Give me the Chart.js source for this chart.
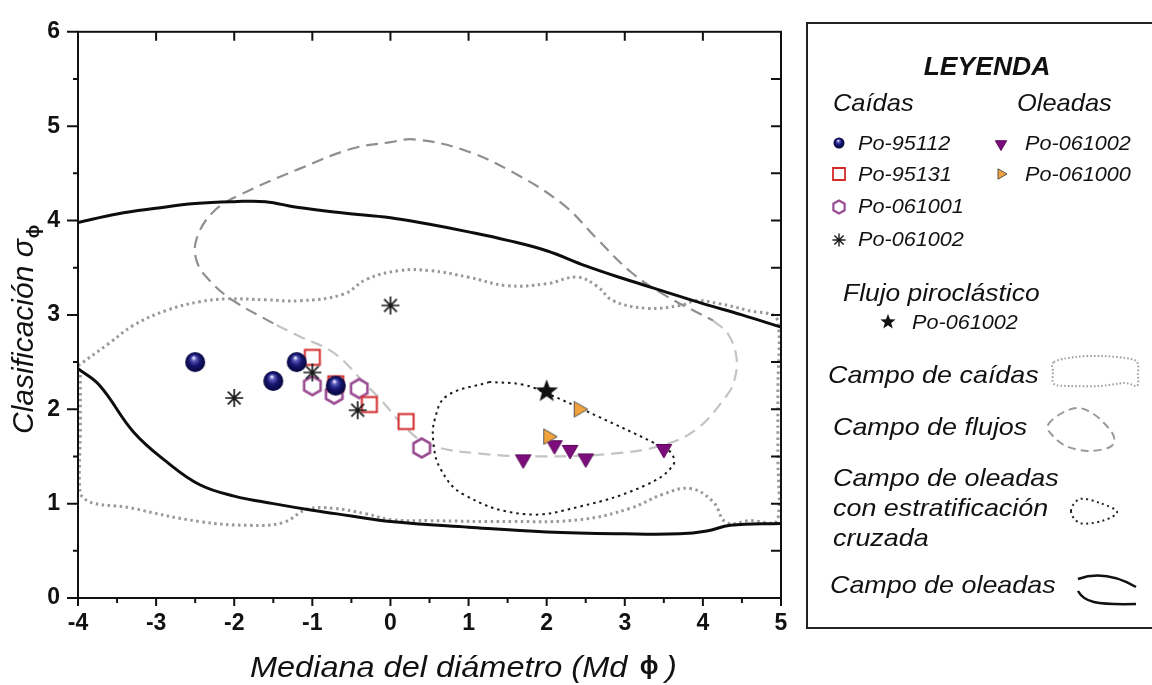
<!DOCTYPE html>
<html>
<head>
<meta charset="utf-8">
<script src="https://cdn.jsdelivr.net/npm/chart.js@4.4.1/dist/chart.umd.min.js"></script>
<style>
html,body{margin:0;padding:0;background:#fff;}
#wrap{width:1152px;height:685px;position:relative;}
</style>
</head>
<body>
<div id="wrap"><canvas id="c" width="1152" height="685"></canvas></div>
<script>
// ---------- data ----------
const xTickValues = [-4,-3,-2,-1,0,1,2,3,4,5];
const yTickValues = [0,1,2,3,4,5,6];

// Caídas
const caidas95112 = [{x:-2.5,y:2.5},{x:-1.5,y:2.3},{x:-1.2,y:2.5},{x:-0.7,y:2.25}];
const caidas95131 = [{x:-1.0,y:2.55},{x:-0.7,y:2.27},{x:-0.27,y:2.05},{x:0.2,y:1.87}];
const caidas061001 = [{x:-1.0,y:2.25},{x:-0.72,y:2.16},{x:-0.4,y:2.22},{x:0.4,y:1.59}];
const caidas061002 = [{x:-2.0,y:2.12},{x:-1.0,y:2.39},{x:-0.42,y:1.99},{x:0.0,y:3.1}];
// Oleadas
const oleadas061002 = [{x:1.7,y:1.48},{x:2.1,y:1.63},{x:2.3,y:1.58},{x:2.5,y:1.49},{x:3.5,y:1.59}];
const oleadas061000 = [{x:2.02,y:1.71},{x:2.41,y:2.0}];
// Flujo piroclástico
const flujo061002 = [{x:2.0,y:2.19}];

// Campo de oleadas (two solid curves)
const oleadasUpper = [{x:-4,y:3.98},{x:-3.5,y:4.07},{x:-3,y:4.13},{x:-2.5,y:4.18},{x:-2,y:4.2},{x:-1.6,y:4.2},{x:-1.2,y:4.14},{x:-0.6,y:4.08},{x:0,y:4.03},{x:0.5,y:3.96},{x:1,y:3.88},{x:1.5,y:3.79},{x:2,y:3.68},{x:2.5,y:3.52},{x:3,y:3.38},{x:3.5,y:3.25},{x:4,y:3.12},{x:4.5,y:3.0},{x:5,y:2.87}];
const oleadasLower = [{x:-4,y:2.43},{x:-3.72,y:2.25},{x:-3.29,y:1.76},{x:-2.86,y:1.44},{x:-2.44,y:1.2},{x:-2,y:1.08},{x:-1.5,y:1.0},{x:-1,y:0.93},{x:-0.5,y:0.87},{x:0,y:0.81},{x:1,y:0.75},{x:2,y:0.7},{x:3,y:0.68},{x:3.7,y:0.68},{x:4.05,y:0.71},{x:4.35,y:0.77},{x:5,y:0.79}];
// Campo de caídas (dotted)
const caidasField = [{x:-4,y:2.46},{x:-3.6,y:2.7},{x:-3.29,y:2.89},{x:-2.86,y:3.05},{x:-2.44,y:3.14},{x:-2.09,y:3.17},{x:-1.6,y:3.16},{x:-1.16,y:3.15},{x:-0.6,y:3.22},{x:-0.3,y:3.38},{x:0.12,y:3.47},{x:0.5,y:3.47},{x:1.0,y:3.4},{x:1.49,y:3.31},{x:2.0,y:3.33},{x:2.39,y:3.4},{x:2.65,y:3.3},{x:2.85,y:3.15},{x:3.28,y:3.07},{x:3.71,y:3.1},{x:3.92,y:3.15},{x:4.2,y:3.12},{x:4.56,y:3.05},{x:4.96,y:2.94},{x:4.96,y:2.2},{x:4.96,y:1.5},{x:4.96,y:0.83},{x:4.6,y:0.82},{x:4.3,y:0.8},{x:4.13,y:1.02},{x:3.84,y:1.16},{x:3.49,y:1.1},{x:3.07,y:0.95},{x:2.43,y:0.83},{x:1.57,y:0.81},{x:0.5,y:0.82},{x:0,y:0.83},{x:-0.3,y:0.89},{x:-0.73,y:0.95},{x:-1.07,y:0.94},{x:-1.37,y:0.8},{x:-1.8,y:0.77},{x:-2.44,y:0.81},{x:-3.29,y:0.95},{x:-3.97,y:1.1},{x:-3.97,y:1.8},{x:-3.97,y:2.46}];
// Campo de flujos (dashed) upper (darker) and lower (lighter) parts
const flujosUpper = [{x:-1.5,y:2.91},{x:-2.01,y:3.15},{x:-2.31,y:3.36},{x:-2.48,y:3.57},{x:-2.48,y:3.81},{x:-2.27,y:4.09},{x:-1.93,y:4.27},{x:-1.16,y:4.55},{x:-0.5,y:4.76},{x:0,y:4.83},{x:0.3,y:4.86},{x:0.93,y:4.75},{x:1.57,y:4.51},{x:2.21,y:4.17},{x:2.64,y:3.81},{x:3.07,y:3.46},{x:3.49,y:3.22},{x:4.13,y:2.94}];
const flujosLower = [{x:4.13,y:2.94},{x:4.32,y:2.8},{x:4.43,y:2.55},{x:4.4,y:2.3},{x:4.3,y:2.14},{x:3.92,y:1.79},{x:3.49,y:1.62},{x:2.85,y:1.53},{x:2.0,y:1.5},{x:1.15,y:1.53},{x:0.51,y:1.62},{x:0.21,y:1.79},{x:-0.1,y:2.08},{x:-0.3,y:2.25},{x:-0.73,y:2.6},{x:-1.16,y:2.77},{x:-1.5,y:2.91}];
// Campo de oleadas con estratificación cruzada (dotted black)
const cruzadaField = [{x:1.27,y:2.29},{x:0.72,y:2.14},{x:0.57,y:1.9},{x:0.55,y:1.65},{x:0.64,y:1.37},{x:0.93,y:1.1},{x:1.7,y:0.89},{x:2.43,y:0.97},{x:3.28,y:1.2},{x:3.62,y:1.41},{x:3.58,y:1.55},{x:3.36,y:1.65},{x:2.64,y:1.93},{x:2.0,y:2.17},{x:1.7,y:2.26},{x:1.27,y:2.29}];

// ---------- marker painters ----------
function paintSphere(g,x,y,r){
  const grad=g.createRadialGradient(x-r*0.15,y-r*0.45,r*0.05,x,y,r);
  grad.addColorStop(0,'#f0f0ff');grad.addColorStop(0.22,'#5656b8');grad.addColorStop(0.55,'#161670');grad.addColorStop(1,'#06063c');
  g.fillStyle=grad;g.beginPath();g.arc(x,y,r,0,Math.PI*2);g.fill();
}
function paintSquare(g,x,y,h,lw){
  g.fillStyle='#fff';g.strokeStyle='#d42a2a';g.lineWidth=lw;
  g.beginPath();g.rect(x-h,y-h,2*h,2*h);g.fill();g.stroke();
}
function paintHex(g,x,y,r,lw){
  g.strokeStyle='#9b4d94';g.lineWidth=lw;g.fillStyle='#fff';g.beginPath();
  for(let i=0;i<6;i++){const a=Math.PI/2+i*Math.PI/3;const px=x+r*Math.cos(a),py=y-r*Math.sin(a);i?g.lineTo(px,py):g.moveTo(px,py);}
  g.closePath();g.fill();g.stroke();
}
function paintAsterisk(g,x,y,r,lw){
  g.strokeStyle='#1a1a1a';g.lineWidth=lw;g.beginPath();
  for(let i=0;i<4;i++){const a=i*Math.PI/4;g.moveTo(x-r*Math.cos(a),y-r*Math.sin(a));g.lineTo(x+r*Math.cos(a),y+r*Math.sin(a));}
  g.stroke();
}
function paintTri(g,x,y,r,rot,fill,stroke){
  g.fillStyle=fill;g.strokeStyle=stroke;g.lineWidth=1;g.beginPath();
  for(let i=0;i<3;i++){const a=rot+i*2*Math.PI/3;const px=x+r*Math.sin(a),py=y-r*Math.cos(a);i?g.lineTo(px,py):g.moveTo(px,py);}
  g.closePath();g.fill();g.stroke();
}
function paintStar(g,x,y,r){
  g.fillStyle='#111';g.beginPath();
  for(let i=0;i<10;i++){const rr=i%2?r*0.42:r;const a=i*Math.PI/5;const px=x+rr*Math.sin(a),py=y-rr*Math.cos(a);i?g.lineTo(px,py):g.moveTo(px,py);}
  g.closePath();g.fill();
}
function makeCanvas(size,painter){
  const c=document.createElement('canvas');c.width=size;c.height=size;
  painter(c.getContext('2d'),size/2,size/2);return c;
}
const sphereImg=makeCanvas(22,(g,x,y)=>paintSphere(g,x,y,10));
const squareImg=makeCanvas(20,(g,x,y)=>paintSquare(g,x,y,7.5,2));
const hexImg=makeCanvas(24,(g,x,y)=>paintHex(g,x,y,9.5,2.6));
const asteriskImg=makeCanvas(22,(g,x,y)=>paintAsterisk(g,x,y,9,1.7));
const downTriImg=makeCanvas(22,(g,x,y)=>paintTri(g,x,y+1,9,Math.PI,'#7d0c7d','#5a085a'));
const rightTriImg=makeCanvas(22,(g,x,y)=>paintTri(g,x,y,9,Math.PI/2,'#f2a23a','#555'));
const starImg=makeCanvas(26,(g,x,y)=>paintStar(g,x,y,12));

// ---------- helpers ----------
function txt(ctx,s,x,y,font,sx,align){
  ctx.save();ctx.font=font;ctx.translate(x,y);ctx.scale(sx||1,1);
  ctx.textAlign=align||'left';ctx.textBaseline='alphabetic';ctx.fillStyle='#111';ctx.fillText(s,0,0);ctx.restore();
}
function smoothClosed(ctx,pts){
  const n=pts.length;ctx.moveTo(pts[0][0],pts[0][1]);
  for(let i=0;i<n;i++){
    const p0=pts[(i-1+n)%n],p1=pts[i],p2=pts[(i+1)%n],p3=pts[(i+2)%n];
    ctx.bezierCurveTo(p1[0]+(p2[0]-p0[0])/6,p1[1]+(p2[1]-p0[1])/6,p2[0]-(p3[0]-p1[0])/6,p2[1]-(p3[1]-p1[1])/6,p2[0],p2[1]);
  }
}

const F='"Liberation Sans", Arial, sans-serif';

const framePlugin={
  id:'frame',
  afterDraw(chart){
    const ctx=chart.ctx,xs=chart.scales.x,ys=chart.scales.y,a=chart.chartArea;
    ctx.save();
    ctx.strokeStyle='#111';ctx.lineWidth=2;ctx.setLineDash([]);
    ctx.strokeRect(a.left,a.top,a.right-a.left,a.bottom-a.top);
    ctx.beginPath();
    for(let k=-8;k<=10;k++){
      const v=k/2,px=xs.getPixelForValue(v),major=(k%2===0);
      ctx.moveTo(px,a.bottom);ctx.lineTo(px,a.bottom+(major?8:5));
      if(major&&k>-8&&k<10){ctx.moveTo(px,a.top);ctx.lineTo(px,a.top+9);}
    }
    for(let k=0;k<=12;k++){
      const v=k/2,py=ys.getPixelForValue(v),major=(k%2===0);
      ctx.moveTo(a.left,py);ctx.lineTo(a.left-(major?11:5),py);
      if(k>0&&k<12){ctx.moveTo(a.right,py);ctx.lineTo(a.right-10,py);}
    }
    ctx.stroke();

    // axis titles
    txt(ctx,'Mediana del diámetro (Md',250,677,'italic 29px '+F,1.12);
    txt(ctx,'ϕ',649,674,'bold 25px '+F,1,'center');
    txt(ctx,')',666,677,'italic 29px '+F,1.12);
    ctx.save();ctx.translate(33,434);ctx.rotate(-Math.PI/2);
    ctx.font='italic 30px '+F;ctx.fillStyle='#111';ctx.textAlign='left';ctx.textBaseline='alphabetic';
    const s1='Clasificación σ';ctx.fillText(s1,0,0);const w1=ctx.measureText(s1).width;
    ctx.font='bold 18px '+F;ctx.fillText('ϕ',w1+1,6);
    ctx.restore();

    // legend box
    ctx.lineWidth=2;ctx.strokeStyle='#222';ctx.strokeRect(807,23,420,605);
    txt(ctx,'LEYENDA',987,75,'italic bold 25px '+F,1.06,'center');
    txt(ctx,'Caídas',833,111,'italic 24px '+F,1.06);
    txt(ctx,'Oleadas',1017,111,'italic 24px '+F,1.06);
    const rows=[[150,'Po-95112'],[181,'Po-95131'],[213,'Po-061001'],[246,'Po-061002']];
    rows.forEach(r=>txt(ctx,r[1],858,r[0],'italic 21px '+F,1.03));
    paintSphere(ctx,839,143,5.5);
    paintSquare(ctx,839,174,6,1.8);
    paintHex(ctx,839,207,6.5,2.2);
    paintAsterisk(ctx,839,240,6.5,1.4);
    txt(ctx,'Po-061002',1025,150,'italic 21px '+F,1.03);
    txt(ctx,'Po-061000',1025,181,'italic 21px '+F,1.03);
    paintTri(ctx,1001,144,6.5,Math.PI,'#7d0c7d','#5a085a');
    paintTri(ctx,1001,174,6,Math.PI/2,'#f2a23a','#555');
    txt(ctx,'Flujo piroclástico',843,301,'italic 24px '+F,1.1);
    paintStar(ctx,888,322,8);
    txt(ctx,'Po-061002',912,329,'italic 21px '+F,1.03);

    txt(ctx,'Campo de caídas',828,383,'italic 24px '+F,1.12);
    txt(ctx,'Campo de flujos',833,435,'italic 24px '+F,1.12);
    txt(ctx,'Campo de oleadas',833,486,'italic 24px '+F,1.12);
    txt(ctx,'con estratificación',833,516,'italic 24px '+F,1.12);
    txt(ctx,'cruzada',833,546,'italic 24px '+F,1.12);
    txt(ctx,'Campo de oleadas',830,593,'italic 24px '+F,1.12);

    // swatches
    ctx.lineCap='butt';
    ctx.strokeStyle='#9a9a9a';ctx.lineWidth=2;ctx.setLineDash([1.5,2.2]);
    ctx.beginPath();
    smoothClosed(ctx,[[1054,362],[1075,357],[1100,356],[1125,358],[1137,362],[1138,375],[1137,386],[1125,383],[1100,386],[1070,386],[1054,384],[1053,372]]);
    ctx.stroke();
    ctx.strokeStyle='#9a9a9a';ctx.lineWidth=2;ctx.setLineDash([8,5]);
    ctx.beginPath();
    smoothClosed(ctx,[[1048,425],[1062,413],[1078,408],[1092,413],[1105,424],[1114,437],[1110,447],[1088,451],[1066,446],[1052,435]]);
    ctx.stroke();
    ctx.strokeStyle='#222';ctx.lineWidth=2;ctx.setLineDash([2,3.5]);
    ctx.beginPath();
    smoothClosed(ctx,[[1071,511],[1080,499],[1100,503],[1117,512],[1102,521],[1080,523]]);
    ctx.stroke();
    ctx.setLineDash([]);ctx.strokeStyle='#111';ctx.lineWidth=2.5;
    ctx.beginPath();ctx.moveTo(1078,579);ctx.bezierCurveTo(1095,573,1115,575,1136,587);ctx.stroke();
    ctx.beginPath();ctx.moveTo(1078,591);ctx.bezierCurveTo(1084,602,1095,605,1136,604);ctx.stroke();
    ctx.restore();
  }
};

function pts(label,data,img){return {label,data,pointStyle:img,pointRadius:10,pointHoverRadius:10,showLine:false};}
function line(label,data,color,width,dash){return {label,data,showLine:true,pointRadius:0,pointHoverRadius:0,borderColor:color,borderWidth:width,borderDash:dash,tension:0.4,fill:false,borderCapStyle:'butt'};}

new Chart(document.getElementById('c'),{
  type:'scatter',
  data:{datasets:[
    pts('Flujo Po-061002',flujo061002,starImg),
    pts('Oleadas Po-061000',oleadas061000,rightTriImg),
    pts('Oleadas Po-061002',oleadas061002,downTriImg),
    pts('Caídas Po-061002',caidas061002,asteriskImg),
    pts('Caídas Po-95112',caidas95112,sphereImg),
    pts('Caídas Po-95131',caidas95131,squareImg),
    pts('Caídas Po-061001',caidas061001,hexImg),
    line('Campo de oleadas con estratificación cruzada',cruzadaField,'#1a1a1a',2,[2.5,4]),
    line('Campo de oleadas (sup)',oleadasUpper,'#0d0d0d',3,[]),
    line('Campo de oleadas (inf)',oleadasLower,'#0d0d0d',3,[]),
    line('Campo de flujos (sup)',flujosUpper,'#8f8f8f',2.2,[12,7]),
    line('Campo de flujos (inf)',flujosLower,'#c4c4c4',2.2,[12,7]),
    line('Campo de caídas',caidasField,'#999999',3,[2.5,3.5])
  ]},
  options:{
    responsive:false,animation:false,devicePixelRatio:1,
    layout:{padding:{left:0,top:25,right:371,bottom:0}},
    plugins:{legend:{display:false},tooltip:{enabled:false}},
    scales:{
      x:{type:'linear',min:-4,max:5,
        afterBuildTicks:s=>{s.ticks=xTickValues.map(v=>({value:v}));},
        afterFit:s=>{s.height=87;},
        grid:{display:false,drawTicks:false},border:{display:false},
        ticks:{font:{family:'Liberation Sans',size:23,weight:'bold'},color:'#111',padding:12,maxRotation:0,autoSkip:false}},
      y:{type:'linear',min:0,max:6,
        afterBuildTicks:s=>{s.ticks=yTickValues.map(v=>({value:v}));},
        afterFit:s=>{s.width=78;},
        grid:{display:false,drawTicks:false},border:{display:false},
        ticks:{font:{family:'Liberation Sans',size:23,weight:'bold'},color:'#111',padding:18,autoSkip:false}}
    }
  },
  plugins:[framePlugin]
});
</script>
</body>
</html>
